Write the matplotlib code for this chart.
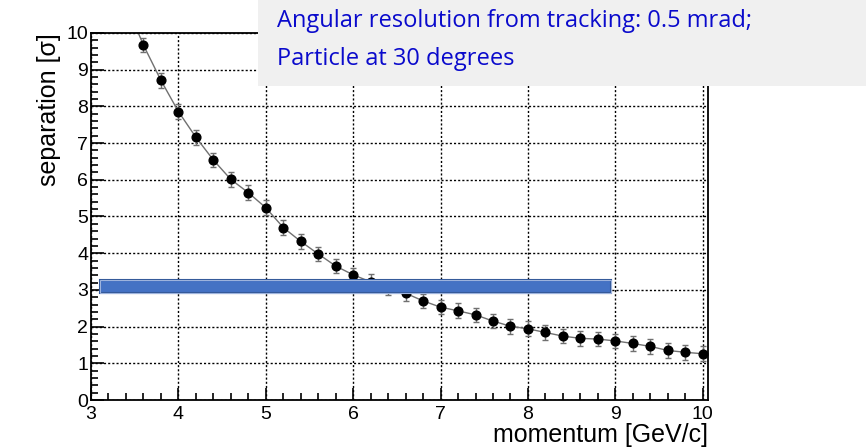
import matplotlib
matplotlib.use("Agg")
from matplotlib import pyplot as plt
from matplotlib.patches import Rectangle
from matplotlib.ticker import MultipleLocator

# momentum points [GeV/c] and separation [sigma]
momentum = [3.4, 3.6, 3.8, 4.0, 4.2, 4.4, 4.6, 4.8, 5.0, 5.2, 5.4, 5.6, 5.8,
            6.0, 6.2, 6.4, 6.6, 6.8, 7.0, 7.2, 7.4, 7.6, 7.8, 8.0, 8.2, 8.4,
            8.6, 8.8, 9.0, 9.2, 9.4, 9.6, 9.8, 10.0]
separation = [10.8, 9.67, 8.71, 7.86, 7.16, 6.54, 6.01, 5.65, 5.24, 4.70,
              4.32, 3.98, 3.65, 3.41, 3.22, 3.05, 2.91, 2.70, 2.53, 2.43,
              2.32, 2.15, 2.01, 1.94, 1.84, 1.74, 1.68, 1.66, 1.61, 1.54,
              1.46, 1.35, 1.30, 1.26]
sep_err = [0.2] * len(momentum)

# highlighted 3 sigma band
band_x = [3.1, 8.95]
band_y = [2.92, 3.26]

note_lines = ["Angular resolution from tracking: 0.5 mrad;",
              "Particle at 30 degrees"]

plt.rcParams['font.family'] = ['Liberation Sans', 'DejaVu Sans']

fig = plt.figure(figsize=(8.66, 4.48), dpi=100)
ax = fig.add_axes([91 / 866, 48 / 448, 617 / 866, 367 / 448])

ax.plot(momentum, separation, color='#707070', linewidth=1, zorder=2)
ax.errorbar(momentum, separation, yerr=sep_err, fmt='o', color='black',
            markersize=6.3, ecolor='#707070', elinewidth=1, capsize=2,
            capthick=1, zorder=3)

ax.add_patch(Rectangle((band_x[0], band_y[0]), band_x[1] - band_x[0],
                       band_y[1] - band_y[0], facecolor='#4472c4',
                       edgecolor='#2f5597', linewidth=1.5, zorder=4))
ax.add_patch(Rectangle((band_x[0], band_y[0]), band_x[1] - band_x[0],
                       band_y[1] - band_y[0], facecolor='none',
                       edgecolor='#9db3dd', linewidth=0.8, zorder=5))

ax.set_xlim(3, 10.06)
ax.set_ylim(0, 10)
ax.xaxis.set_major_locator(MultipleLocator(1))
ax.xaxis.set_minor_locator(MultipleLocator(0.2))
ax.yaxis.set_major_locator(MultipleLocator(1))
ax.yaxis.set_minor_locator(MultipleLocator(0.2))
ax.tick_params(which='both', direction='in', top=False, right=False,
               labelsize=14, width=1.2)
ax.tick_params(axis='x', pad=4)
ax.tick_params(axis='y', pad=2)
ax.tick_params(which='major', length=9)
ax.tick_params(which='minor', length=5)
ax.grid(True, which='major', color='black', linestyle=(0, (1.5, 1.5)),
        linewidth=1)
ax.set_axisbelow(True)
for s in ax.spines.values():
    s.set_linewidth(1.3)

ax.set_xlabel("momentum [GeV/c]", fontsize=18, loc='right', labelpad=0)
ax.set_ylabel("separation [σ]", fontsize=18, loc='top', labelpad=4)

# grey note box covering the top right of the frame
fig.patches.append(Rectangle((258 / 866, 1 - 86 / 448), 1, 86 / 448,
                             transform=fig.transFigure, facecolor='#f0f0f0',
                             edgecolor='none', zorder=10))
for i, line in enumerate(note_lines):
    fig.text(277 / 866, 1 - (27 + 38 * i) / 448, line, color='#0a0acc',
             fontsize=17, family=['Open Sans', 'DejaVu Sans'],
             va='baseline', ha='left', zorder=11)

fig.savefig("out.png", dpi=100)
